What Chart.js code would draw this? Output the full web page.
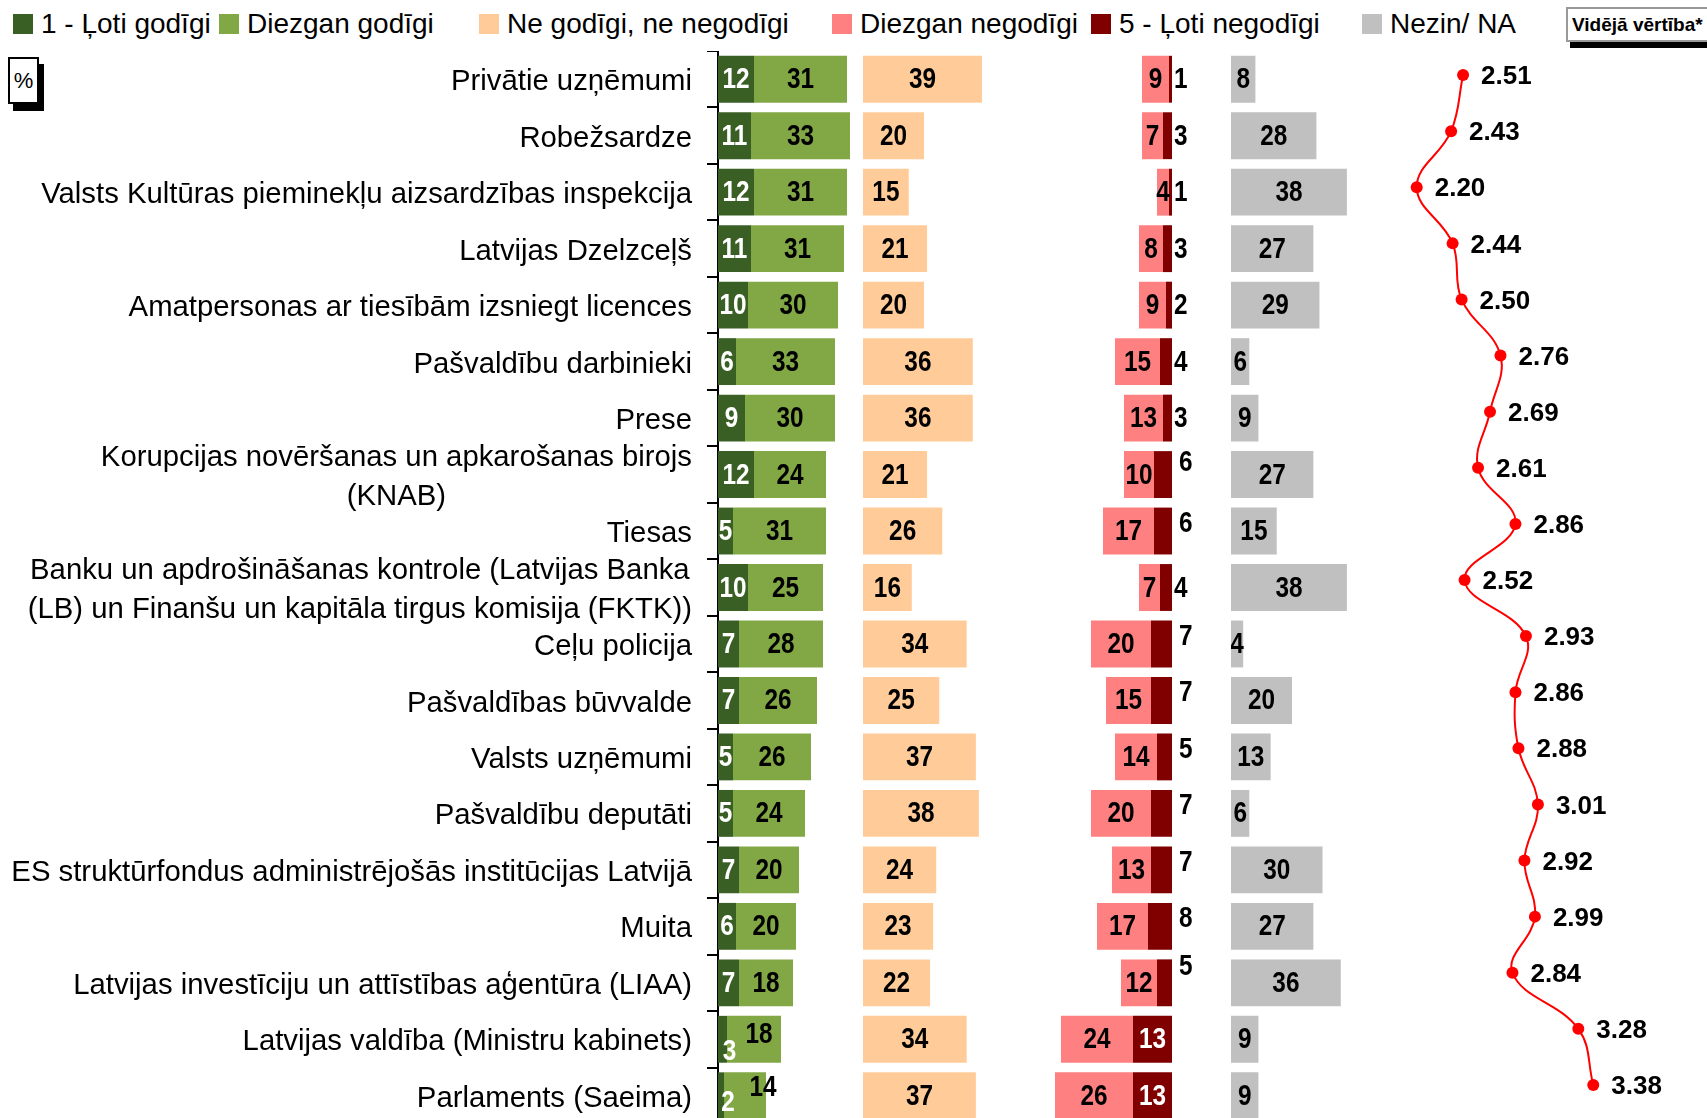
<!DOCTYPE html>
<html lang="lv">
<head>
<meta charset="utf-8">
<title>Institūciju godīgums</title>
<script src="https://cdn.jsdelivr.net/npm/chart.js@4.4.1/dist/chart.umd.min.js"></script>
<style>
html, body {
    margin: 0;
    padding: 0;
    width: 1707px;
    height: 1118px;
    overflow: hidden;
    background: #fff;
    font-family: "Liberation Sans", Arial, sans-serif;
    color: #000;
}
canvas { position: absolute; }
.legendItem {
    position: absolute;
    top: 7px;
    height: 33px;
    line-height: 33px;
    font-size: 28px;
    white-space: nowrap;
    display: flex;
    align-items: center;
}
.legendItem span.sw {
    display: inline-block;
    width: 20px;
    height: 20px;
    margin-right: 8px;
}
#pct {
    position: absolute;
    left: 8px;
    top: 57px;
    width: 27px;
    height: 43px;
    border: 2px solid #000;
    background: #fff;
    box-shadow: 5px 7px 0 #000;
    font-size: 22px;
    text-align: center;
    line-height: 43px;
}
#meanBox {
    position: absolute;
    left: 1566px;
    top: 7px;
    width: 170px;
    height: 31px;
    border: 2px solid #999;
    background: #fff;
    box-shadow: 4px 6px 0 #000;
    font-size: 19px;
    font-weight: bold;
    line-height: 31px;
    padding-left: 4px;
    white-space: nowrap;
}
</style>
</head>
<body>

<div id="legend"></div>
<div id="pct">%</div>
<div id="meanBox">Vidējā vērtība*</div>

<canvas id="greenChart" width="880" height="1073" style="left:0px; top:51px;"></canvas>
<canvas id="neutralChart" width="150" height="1073" style="left:863px; top:51px;"></canvas>
<canvas id="badChart" width="181" height="1073" style="left:1021px; top:51px;"></canvas>
<canvas id="naChart" width="150" height="1073" style="left:1231px; top:51px;"></canvas>
<canvas id="meanChart" width="404" height="1066" style="left:1297px; top:47px;"></canvas>

<script>
/*==================================================
 Institūciju godīgums - dati
==================================================*/

const categories = [
    "Privātie uzņēmumi",
    "Robežsardze",
    "Valsts Kultūras pieminekļu aizsardzības inspekcija",
    "Latvijas Dzelzceļš",
    "Amatpersonas ar tiesībām izsniegt licences",
    "Pašvaldību darbinieki",
    "Prese",
    ["Korupcijas novēršanas un apkarošanas birojs", "(KNAB)"],
    "Tiesas",
    ["Banku un apdrošināšanas kontrole (Latvijas Banka", "(LB) un Finanšu un kapitāla tirgus komisija (FKTK))"],
    "Ceļu policija",
    "Pašvaldības būvvalde",
    "Valsts uzņēmumi",
    "Pašvaldību deputāti",
    "ES struktūrfondus administrējošās institūcijas Latvijā",
    "Muita",
    "Latvijas investīciju un attīstības aģentūra (LIAA)",
    "Latvijas valdība (Ministru kabinets)",
    "Parlaments (Saeima)"
];

const veryHonest     = [12, 11, 12, 11, 10,  6,  9, 12,  5, 10,  7,  7,  5,  5,  7,  6,  7,  3,  2];
const ratherHonest   = [31, 33, 31, 31, 30, 33, 30, 24, 31, 25, 28, 26, 26, 24, 20, 20, 18, 18, 14];
const neither        = [39, 20, 15, 21, 20, 36, 36, 21, 26, 16, 34, 25, 37, 38, 24, 23, 22, 34, 37];
const ratherDishon   = [ 9,  7,  4,  8,  9, 15, 13, 10, 17,  7, 20, 15, 14, 20, 13, 17, 12, 24, 26];
const veryDishon     = [ 1,  3,  1,  3,  2,  4,  3,  6,  6,  4,  7,  7,  5,  7,  7,  8,  5, 13, 13];
const dontKnow       = [ 8, 28, 38, 27, 29,  6,  9, 27, 15, 38,  4, 20, 13,  6, 30, 27, 36,  9,  9];
const meanValues     = [2.51, 2.43, 2.20, 2.44, 2.50, 2.76, 2.69, 2.61, 2.86, 2.52, 2.93, 2.86, 2.88, 3.01, 2.92, 2.99, 2.84, 3.28, 3.38];

const seriesNames = ["1 - Ļoti godīgi", "Diezgan godīgi", "Ne godīgi, ne negodīgi", "Diezgan negodīgi", "5 - Ļoti negodīgi", "Nezin/ NA"];

//------------------------------------
// Styles
//------------------------------------

const COL_DARKGREEN = "#3A5F24";
const COL_GREEN     = "#82A745";
const COL_PEACH     = "#FFCC99";
const COL_PINK      = "#FF8080";
const COL_DARKRED   = "#800000";
const COL_GRAY      = "#C0C0C0";
const COL_LINE      = "#FF0000";

const seriesColors = [COL_DARKGREEN, COL_GREEN, COL_PEACH, COL_PINK, COL_DARKRED, COL_GRAY];
const legendLeft = [13, 219, 479, 832, 1091, 1362];

const LABEL_FONT = "29.3px 'Liberation Sans', Arial, sans-serif";
const VALUE_FONT = "bold 29px 'Liberation Sans', Arial, sans-serif";
const MEAN_FONT  = "bold 26px 'Liberation Sans', Arial, sans-serif";

//------------------------------------
// Legend (HTML)
//------------------------------------

const legend = document.getElementById("legend");

seriesNames.forEach(function (name, i) {

    const item = document.createElement("div");
    item.className = "legendItem";
    item.style.left = legendLeft[i] + "px";

    const sw = document.createElement("span");
    sw.className = "sw";
    sw.style.background = seriesColors[i];

    item.appendChild(sw);
    item.appendChild(document.createTextNode(name));
    legend.appendChild(item);
});

//------------------------------------
// Helpers
//------------------------------------

function drawText(ctx, txt, x, y, align, font, color, sx) {

    ctx.save();
    ctx.translate(x, y);
    ctx.scale(sx, 1);
    ctx.font = font;
    ctx.fillStyle = color;
    ctx.textAlign = align;
    ctx.textBaseline = "middle";
    ctx.fillText(txt, 0, 0);
    ctx.restore();
}

// value labels on bars
const barLabels = {

    id: "barLabels",

    afterDatasetsDraw(chart, args, opts) {

        const ctx = chart.ctx;
        const nudge = opts.nudge || {};

        chart.data.datasets.forEach(function (ds, di) {

            const meta = chart.getDatasetMeta(di);

            meta.data.forEach(function (bar, i) {

                const v = ds.data[i];
                const p = bar.getProps(["x", "y", "base"], true);

                let x = (p.x + p.base) / 2;
                let y = p.y + 1;
                let align = "center";
                let color = ds.labelColor || "#000";

                if (ds.outsideBelow && v < ds.outsideBelow) {
                    x = Math.max(p.x, p.base) + (v >= 5 ? 7 : 2);
                    align = "left";
                    color = "#000";
                    if (v >= 5) y -= 8;
                }

                const n = nudge[di + ":" + i];
                if (n) {
                    x += n[0];
                    y += n[1];
                }

                drawText(ctx, String(v), x, y, align, VALUE_FONT, color, 0.84);
            });
        });
    }
};

// category labels, block right-aligned, lines centred
const categoryLabels = {

    id: "categoryLabels",

    afterDraw(chart) {

        const ctx = chart.ctx;
        const yScale = chart.scales.y;
        const right = 692;
        const lineH = 38.5;

        ctx.save();
        ctx.font = LABEL_FONT;
        ctx.fillStyle = "#000";
        ctx.textBaseline = "middle";
        ctx.textAlign = "center";

        categories.forEach(function (lab, i) {

            const lines = Array.isArray(lab) ? lab : [lab];
            const y0 = yScale.getPixelForValue(i);

            let w = 0;
            lines.forEach(function (l) { w = Math.max(w, ctx.measureText(l).width); });

            const cx = right - w / 2;

            lines.forEach(function (l, k) {
                const y = y0 + (k - (lines.length - 1) / 2) * lineH + 3;
                ctx.fillText(l, cx, y);
            });
        });

        ctx.restore();
    }
};

// mean value labels
const meanLabels = {

    id: "meanLabels",

    afterDatasetsDraw(chart) {

        const meta = chart.getDatasetMeta(0);

        meta.data.forEach(function (pt, i) {
            const p = pt.getProps(["x", "y"], true);
            drawText(chart.ctx, meanValues[i].toFixed(2), p.x + 18, p.y + 2, "left", MEAN_FONT, "#000", 1);
        });
    }
};

function baseOptions(canvasWidth, pxPerUnit, padRight) {

    const areaWidth = canvasWidth - (padRight || 0);

    return {
        indexAxis: "y",
        responsive: false,
        animation: false,
        layout: { autoPadding: false, padding: { left: 0, right: padRight || 0, top: 0, bottom: 0 } },
        plugins: {
            legend: { display: false },
            tooltip: { enabled: false }
        },
        scales: {
            x: {
                display: false,
                min: 0,
                max: areaWidth / pxPerUnit,
                stacked: true
            },
            y: {
                type: "category",
                display: false,
                offset: true,
                stacked: true
            }
        }
    };
}

function barSet(data, color, extra) {

    return Object.assign({
        data: data,
        backgroundColor: color,
        borderWidth: 0,
        barPercentage: 0.83,
        categoryPercentage: 1.0
    }, extra || {});
}

//------------------------------------
// Build charts
//------------------------------------

window.addEventListener("load", function () {

    // Godīgi (green) + category axis
    const greenOpts = baseOptions(880 - 718, 3);
    greenOpts.scales.y = {
        type: "category",
        display: true,
        position: "left",
        offset: true,
        stacked: true,
        ticks: { display: false },
        grid: {
            display: true,
            offset: true,
            drawOnChartArea: false,
            drawTicks: true,
            tickLength: 11,
            color: "#000",
            lineWidth: 2
        },
        border: { display: true, color: "#000", width: 2 },
        afterFit: function (scale) { scale.width = 718; }
    };
    greenOpts.plugins.barLabels = {
        nudge: {
            "0:17": [7, 12], "1:17": [5, -5],
            "0:18": [7, 6],  "1:18": [18, -9]
        }
    };

    new Chart(document.getElementById("greenChart"), {
        type: "bar",
        data: {
            labels: categories,
            datasets: [
                barSet(veryHonest, COL_DARKGREEN, { labelColor: "#fff" }),
                barSet(ratherHonest, COL_GREEN)
            ]
        },
        options: greenOpts,
        plugins: [barLabels, categoryLabels]
    });

    // Ne godīgi, ne negodīgi
    new Chart(document.getElementById("neutralChart"), {
        type: "bar",
        data: {
            labels: categories,
            datasets: [barSet(neither, COL_PEACH)]
        },
        options: baseOptions(150, 3.05),
        plugins: [barLabels]
    });

    // Negodīgi (reversed axis, grows to the left)
    const badOpts = baseOptions(181, 3, 30);
    badOpts.scales.x.reverse = true;
    badOpts.plugins.barLabels = {
        nudge: { "0:7": [0, -5], "0:16": [0, -9] }
    };

    new Chart(document.getElementById("badChart"), {
        type: "bar",
        data: {
            labels: categories,
            datasets: [
                barSet(veryDishon, COL_DARKRED, { labelColor: "#fff", outsideBelow: 10 }),
                barSet(ratherDishon, COL_PINK)
            ]
        },
        options: badOpts,
        plugins: [barLabels]
    });

    // Nezin / NA
    new Chart(document.getElementById("naChart"), {
        type: "bar",
        data: {
            labels: categories,
            datasets: [barSet(dontKnow, COL_GRAY)]
        },
        options: baseOptions(150, 3.05),
        plugins: [barLabels]
    });

    // Vidējā vērtība
    new Chart(document.getElementById("meanChart"), {
        type: "line",
        data: {
            labels: categories,
            datasets: [{
                data: meanValues,
                borderColor: COL_LINE,
                borderWidth: 2,
                pointRadius: 6,
                pointBackgroundColor: COL_LINE,
                pointBorderWidth: 0,
                tension: 0.4,
                clip: false
            }]
        },
        options: {
            indexAxis: "y",
            responsive: false,
            animation: false,
            layout: { autoPadding: false, padding: 0 },
            plugins: {
                legend: { display: false },
                tooltip: { enabled: false }
            },
            scales: {
                x: { type: "linear", display: false, min: 1.4, max: 4.1 },
                y: { type: "category", display: false, offset: true }
            }
        },
        plugins: [meanLabels]
    });

});
</script>
</body>
</html>
